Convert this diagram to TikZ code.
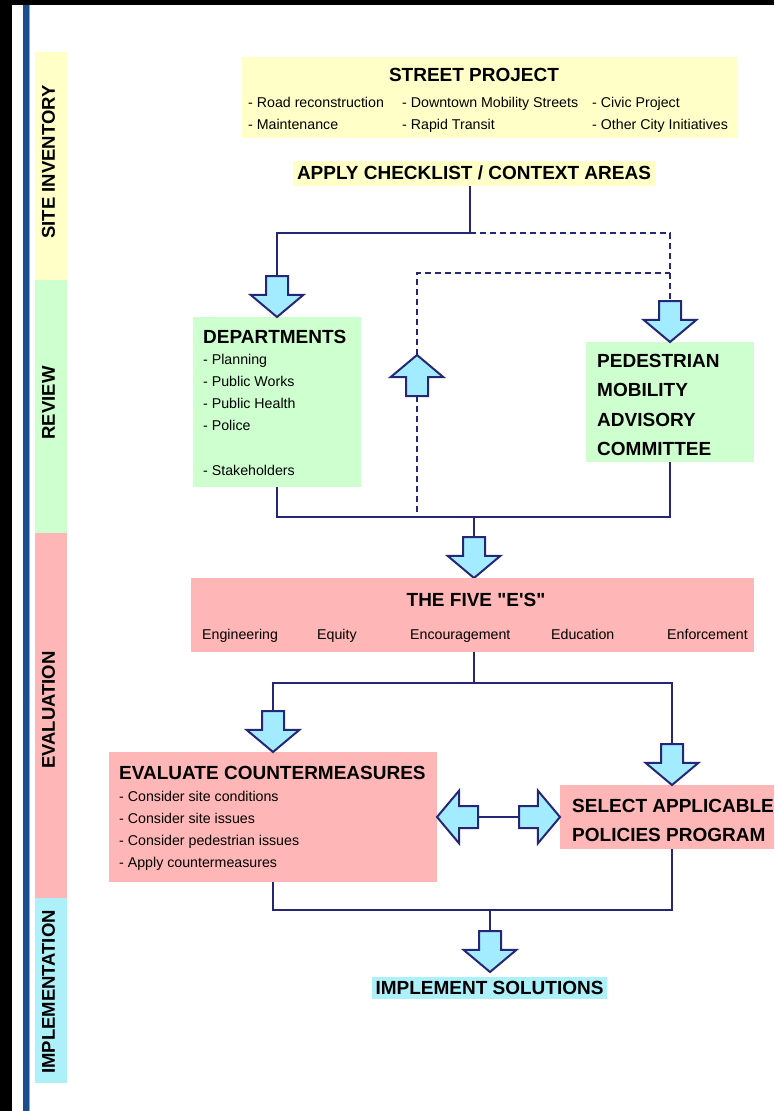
\documentclass[tikz,border=0pt]{standalone}
\usepackage{fontspec}
\setmainfont{Liberation Sans}[Ligatures=TeXOff]
\usepackage{xcolor}
\usepackage{tikz}
\usetikzlibrary{arrows.meta, positioning, shapes.arrows, calc}

\definecolor{navyline}{RGB}{38,38,118}
\definecolor{arrowfill}{RGB}{163,236,255}
\definecolor{paleyellow}{RGB}{255,255,200}
\definecolor{palegreen}{RGB}{206,255,206}
\definecolor{palepink}{RGB}{255,182,182}
\definecolor{palecyan}{RGB}{172,240,250}
\definecolor{frameblue}{RGB}{26,78,142}
\definecolor{framelight}{RGB}{120,170,220}

\begin{document}
\begin{tikzpicture}[x=1pt, y=-1pt,
  link/.style={draw=navyline, line width=2.8pt},
  dashlink/.style={link, dash pattern=on 6pt off 4pt},
  blockarrow/.style={single arrow, draw=navyline, fill=arrowfill, line width=2pt,
    inner sep=10pt, outer sep=0pt, single arrow head extend=15.5pt,
    single arrow tip angle=100, minimum width=41pt, minimum height=41pt, anchor=tip},
  downarrow/.style={blockarrow, shape border rotate=270},
  uparrow/.style={blockarrow, shape border rotate=90},
  leftarrow/.style={blockarrow, shape border rotate=180},
  rightarrow/.style={blockarrow},
  box/.style={anchor=north west, inner sep=0pt, outer sep=0pt},
  band/.style={box, minimum width=32pt},
  bandlabel/.style={rotate=90, inner sep=0pt, font=\fontsize{18.5}{20}\selectfont\bfseries},
  head/.style={anchor=base west, inner sep=0pt, font=\fontsize{19}{22}\selectfont\bfseries},
  item/.style={anchor=base west, inner sep=0pt, font=\fontsize{14.2}{22}\selectfont},
  highlight/.style={inner sep=0pt, outer sep=0pt, font=\fontsize{19}{22}\selectfont\bfseries}
]
  \useasboundingbox (0,0) rectangle (774,1111);

  % Frame
  \fill[black] (0,0) rectangle (12,1111);
  \fill[black] (12,0) rectangle (774,5);
  \fill[frameblue] (23,5) rectangle (28.5,1111);
  \fill[framelight] (28.5,5) rectangle (30,1111);

  % Side bands
  \node[band, fill=paleyellow, minimum height=228pt] (siteband) at (35,52) {};
  \node[band, fill=palegreen, minimum height=253pt] (reviewband) at (35,280) {};
  \node[band, fill=palepink, minimum height=365pt] (evalband) at (35,533) {};
  \node[band, fill=palecyan, minimum height=185pt] (implband) at (35,898) {};
  \node[bandlabel] (sitelabel) at (48.5,162) {SITE INVENTORY};
  \node[bandlabel] (reviewlabel) at (48.5,403) {REVIEW};
  \node[bandlabel] (evallabel) at (48.5,710) {EVALUATION};
  \node[bandlabel] (impllabel) at (48.5,992) {IMPLEMENTATION};

  % Street project
  \node[box, fill=paleyellow, minimum width=495pt, minimum height=81pt] (street) at (242,57) {};
  \node[head, anchor=base] (streettitle) at (474,81) {STREET PROJECT};
  \node[item] (road) at (248,107) {- Road reconstruction};
  \node[item] (downtown) at (402,107) {- Downtown Mobility Streets};
  \node[item] (civic) at (592,107) {- Civic Project};
  \node[item] (maint) at (248,129) {- Maintenance};
  \node[item] (transit) at (402,129) {- Rapid Transit};
  \node[item] (other) at (592,129) {- Other City Initiatives};

  \node[highlight, fill=paleyellow, minimum width=362pt, minimum height=25pt] (apply) at (474,173) {APPLY CHECKLIST / CONTEXT AREAS};

  % Departments
  \node[box, fill=palegreen, minimum width=168pt, minimum height=170pt] (dept) at (193,317) {};
  \node[head] (depttitle) at (203,343) {DEPARTMENTS};
  \node[item] (planning) at (203,364) {- Planning};
  \node[item] (works) at (203,386) {- Public Works};
  \node[item] (health) at (203,408) {- Public Health};
  \node[item] (police) at (203,430) {- Police};
  \node[item] (stake) at (203,475) {- Stakeholders};

  % Advisory committee
  \node[box, fill=palegreen, minimum width=168pt, minimum height=120pt] (pmac) at (586,342) {};
  \node[head] (pmac1) at (597,367) {PEDESTRIAN};
  \node[head] (pmac2) at (597,396.5) {MOBILITY};
  \node[head] (pmac3) at (597,426) {ADVISORY};
  \node[head] (pmac4) at (597,455.5) {COMMITTEE};

  % Review links
  \coordinate (split) at (470,233);
  \coordinate (feedback) at (417,273);
  \node[downarrow] (deptarr) at (dept.north) {};
  \node[downarrow] (pmacarr) at (pmac.north) {};
  \node[uparrow] (backarr) at (417,355) {};
  \draw[link] (apply.south -| split) -- (split) -| (deptarr.tail);
  \draw[dashlink] (split) -| (pmacarr.tail);
  \draw[dashlink] (backarr.tip) -- (feedback) -- (feedback -| pmacarr.tail);

  \coordinate (merge) at (474,517);
  \draw[link] (dept.south) |- (merge) -| (pmac.south);
  \draw[dashlink] (backarr.tail) -- (backarr.tail |- merge);
  \node[downarrow] (fivearr) at (474,578) {};
  \draw[link] (merge) -- (fivearr.tail);

  % The five E's
  \node[box, fill=palepink, minimum width=563pt, minimum height=74pt] (five) at (191,578) {};
  \node[head, anchor=base] (fivetitle) at (476,606) {THE FIVE "E'S"};
  \node[item] (engineering) at (202,639) {Engineering};
  \node[item] (equity) at (317,639) {Equity};
  \node[item] (encourage) at (410,639) {Encouragement};
  \node[item] (education) at (551,639) {Education};
  \node[item] (enforce) at (667,639) {Enforcement};

  % Evaluate countermeasures
  \node[box, fill=palepink, minimum width=328pt, minimum height=130pt] (eval) at (109,752) {};
  \node[head] (evaltitle) at (119,779) {EVALUATE COUNTERMEASURES};
  \node[item] (cond) at (119,801) {- Consider site conditions};
  \node[item] (issues) at (119,823) {- Consider site issues};
  \node[item] (peds) at (119,845) {- Consider pedestrian issues};
  \node[item] (applycm) at (119,867) {- Apply countermeasures};

  % Select policies
  \node[box, fill=palepink, minimum width=214pt, minimum height=64pt] (sel) at (560,785) {};
  \node[head] (sel1) at (572,812) {SELECT APPLICABLE};
  \node[head] (sel2) at (572,841) {POLICIES PROGRAM};

  % Evaluation links
  \coordinate (split2) at (474,683);
  \node[downarrow] (evalarr) at (eval.north) {};
  \node[downarrow] (selarr) at (672,785) {};
  \draw[link] (five.south -| split2) -- (split2);
  \draw[link] (split2) -| (evalarr.tail);
  \draw[link] (split2) -| (selarr.tail);

  \node[leftarrow] (toeval) at (eval.east) {};
  \node[rightarrow] (tosel) at (sel.west) {};
  \draw[link] (toeval.tail) -- (tosel.tail);

  % Implementation
  \coordinate (merge2) at (490,910);
  \draw[link] (eval.south) |- (merge2);
  \draw[link] (selarr.tip |- sel.south) |- (merge2);
  \node[downarrow] (implarr) at (490,972) {};
  \draw[link] (merge2) -- (implarr.tail);
  \node[highlight, fill=palecyan, minimum width=235pt, minimum height=22pt] (impl) at (489.5,988) {IMPLEMENT SOLUTIONS};
\end{tikzpicture}
\end{document}
